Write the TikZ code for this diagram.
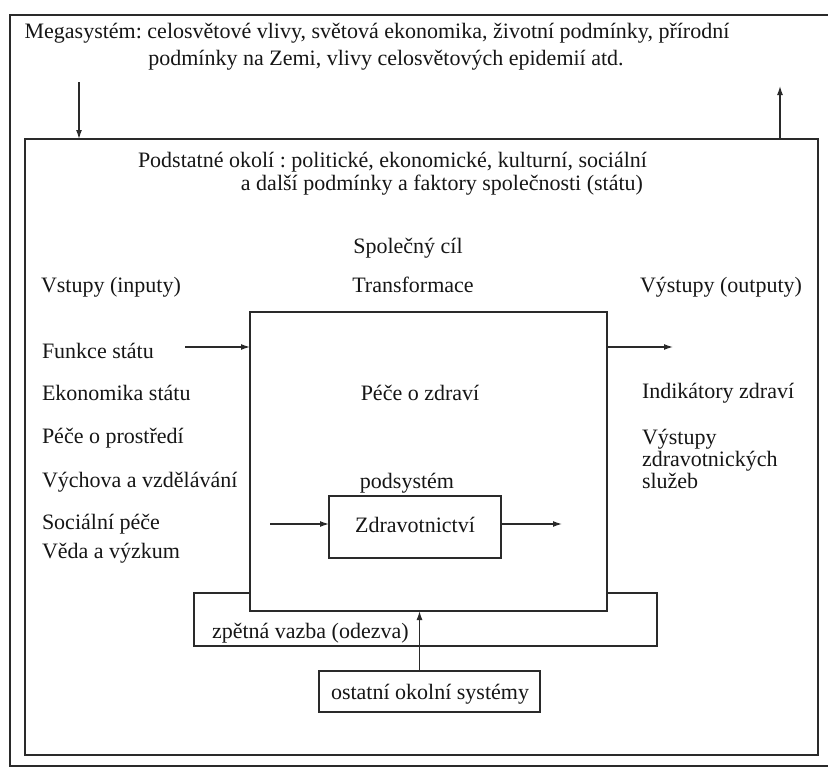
\documentclass[tikz,border=0pt]{standalone}
\usepackage{fontspec}
\setmainfont{Liberation Serif}
\usetikzlibrary{arrows.meta}
\definecolor{ink}{HTML}{161616}
\definecolor{rule}{HTML}{2A2A2A}
\tikzset{
  lbl/.style={inner sep=0pt, outer sep=0pt, text=ink, font=\fontsize{22}{26}\selectfont},
  lblw/.style={lbl, anchor=base west},
  lblc/.style={lbl, anchor=base},
  frame/.style={draw=rule, line width=1.5pt, fill=white, inner sep=0pt, outer sep=0pt},
  arr/.style={draw=rule, line width=1.3pt, -{Latex[length=9pt,width=6pt]}},
}
\frenchspacing
\begin{document}
\begin{tikzpicture}[x=1pt, y=-1pt]
\useasboundingbox (0,0) rectangle (828,771);
\fill[white] (0,0) rectangle (828,771);
\clip (0,0) rectangle (828,771);

% outer frame: the megasystem
\node[frame, line width=1.8pt, fill=none, minimum width=824pt, minimum height=751pt] (mega) at (422,390.5) {};
\node[lblc] (megaA) at (377,38) {Megasystém: celosvětové vlivy, světová ekonomika, životní podmínky, přírodní};
\node[lblc] (megaB) at (386,65) {podmínky na Zemi, vlivy celosvětových epidemií atd.};

% inner frame: the relevant surroundings
\node[frame, fill=none, minimum width=793pt, minimum height=616pt] (okoli) at (421.5,447) {};
\node[lblw] (podA) at (138,167) {Podstatné okolí : politické, ekonomické, kulturní, sociální};
\node[lbl, anchor=base east] (podB) at (643,190) {a další podmínky a faktory společnosti (státu)};

% links between megasystem and surroundings
\coordinate (downstart) at (79,82);
\coordinate (upend) at (780,86);
\draw[arr] (downstart) -- (downstart |- okoli.north);
\draw[arr] (upend |- okoli.north) -- (upend);

% headings
\node[lblc] (cil) at (408,253) {Společný cíl};
\node[lblw] (vstupy) at (41,292) {Vstupy (inputy)};
\node[lblc] (transf) at (413,292) {Transformace};
\node[lblw] (vystupy) at (640,292) {Výstupy (outputy)};

% feedback box, partly covered by the transformation box
\node[frame, minimum width=463pt, minimum height=53pt] (vazba) at (425.5,619.5) {};
\node[lblw] (vazbaT) at (212,638) {zpětná vazba (odezva)};

% transformation box
\node[frame, minimum width=357pt, minimum height=299pt] (trans) at (428.5,461.5) {};
\node[lblc] (pece) at (420,400) {Péče o zdraví};
\node[lblc] (podsys) at (407,488) {podsystém};

% health-care subsystem
\node[frame, minimum width=172pt, minimum height=62pt] (zdrav) at (415,527) {};
\node[lblc] (zdravT) at (415,532) {Zdravotnictví};

% other surrounding systems
\node[frame, minimum width=221pt, minimum height=41pt] (ostatni) at (429.5,691.5) {};
\node[lblc] (ostatniT) at (430,699) {ostatní okolní systémy};
\draw[arr] ([xshift=-10pt]ostatni.north) -- ([xshift=-10pt]ostatni.north |- trans.south);

% inputs
\node[lblw] (funkce) at (42,358) {Funkce státu};
\node[lblw] (ekon) at (42,400) {Ekonomika státu};
\node[lblw] (prostr) at (42,443) {Péče o prostředí};
\node[lblw] (vychova) at (42,487) {Výchova a vzdělávání};
\node[lblw] (social) at (42,529) {Sociální péče};
\node[lblw] (veda) at (42,558) {Věda a výzkum};

% outputs
\node[lblw] (indik) at (642,398) {Indikátory zdraví};
\node[lblw] (vysA) at (642,444) {Výstupy};
\node[lblw] (vysB) at (642,466) {zdravotnických};
\node[lblw] (vysC) at (642,488) {služeb};

% flow arrows
\coordinate (inA) at (185,347);
\coordinate (outA) at (673,347);
\coordinate (inB) at (270,524);
\coordinate (outB) at (562,524);
\draw[arr] (inA) -- (inA -| trans.west);
\draw[arr] (outA -| trans.east) -- (outA);
\draw[arr] (inB) -- (inB -| zdrav.west);
\draw[arr] (outB -| zdrav.east) -- (outB);
\end{tikzpicture}
\end{document}
